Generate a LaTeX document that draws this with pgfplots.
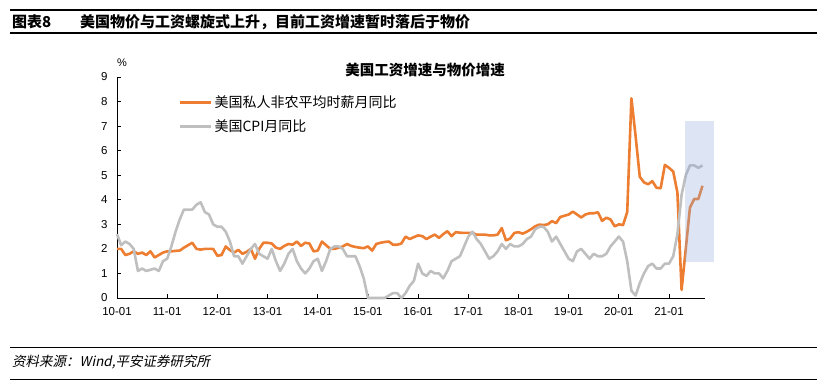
\documentclass[border=0pt]{standalone}
\usepackage{fontspec}
\setmainfont{Liberation Sans}
\newfontfamily\cjk{Noto Sans CJK SC}
\newfontfamily\cjkit[FakeSlant=0.2]{Noto Sans CJK SC}
\usepackage{pgfplots}
\pgfplotsset{compat=1.18}
\usepackage{pgfplotstable}
\definecolor{wage}{RGB}{237,125,49}
\definecolor{cpi}{RGB}{191,191,191}
\definecolor{shadeblue}{RGB}{143,170,220}

% month index = row number, 2010-01 = 0 ... 2021-09 = 140
\pgfplotstableread{
w c
2.0 2.6
2.0 2.15
1.75 2.3
1.8 2.2
1.9 2.0
1.8 1.1
1.85 1.2
1.75 1.1
1.9 1.15
1.65 1.2
1.75 1.1
1.85 1.5
1.9 1.6
1.9 2.1
1.92 2.7
1.93 3.2
2.05 3.6
2.15 3.6
2.25 3.6
2.0 3.8
1.97 3.9
2.0 3.5
2.0 3.4
2.0 3.0
1.72 2.9
1.75 2.9
2.1 2.7
1.95 2.3
1.85 1.7
1.96 1.7
1.8 1.4
1.88 1.7
2.0 2.0
1.6 2.2
2.0 1.8
2.25 1.7
2.25 1.6
2.22 2.0
2.05 1.5
2.0 1.1
2.12 1.4
2.2 1.8
2.17 2.0
2.3 1.5
2.12 1.2
2.25 1.0
2.22 1.2
1.9 1.5
1.93 1.6
2.3 1.1
2.15 1.5
2.0 2.0
2.0 2.1
2.05 2.1
2.1 2.0
2.2 1.7
2.12 1.7
2.08 1.7
2.05 1.3
2.03 0.8
2.1 0.0
1.93 0.0
2.2 0.0
2.25 0.0
2.28 0.0
2.3 0.1
2.17 0.2
2.17 0.2
2.22 0.0
2.5 0.2
2.4 0.5
2.48 0.7
2.55 1.4
2.52 1.0
2.4 0.9
2.5 1.1
2.58 1.0
2.45 1.0
2.6 0.8
2.72 1.1
2.52 1.5
2.68 1.6
2.66 1.7
2.65 2.1
2.65 2.5
2.65 2.7
2.58 2.4
2.58 2.2
2.58 1.9
2.55 1.6
2.55 1.7
2.58 1.9
2.85 2.2
2.35 2.0
2.42 2.2
2.65 2.1
2.68 2.1
2.62 2.2
2.7 2.4
2.8 2.5
2.92 2.8
2.99 2.9
2.97 2.9
3.0 2.7
3.13 2.3
3.05 2.5
3.3 2.2
3.35 1.9
3.4 1.6
3.52 1.5
3.4 1.9
3.28 2.0
3.4 1.8
3.45 1.6
3.45 1.8
3.49 1.7
3.14 1.7
3.27 1.8
3.2 2.1
2.92 2.3
3.0 2.5
2.97 2.3
3.5 1.5
8.13 0.3
6.6 0.1
4.94 0.6
4.71 1.0
4.63 1.3
4.76 1.4
4.49 1.2
4.47 1.2
5.42 1.4
5.3 1.4
5.15 1.7
4.3 2.6
0.33 4.2
2.0 5.0
3.68 5.4
4.03 5.4
4.03 5.3
4.57 5.4
}\data

\begin{document}
\begin{tikzpicture}
\useasboundingbox (0,0) rectangle (817bp,-385bp);
% header
\draw[line width=1.4bp] (10bp,-10bp) -- (817bp,-10bp);
\draw[line width=1.4bp] (10bp,-33bp) -- (817bp,-33bp);
\node[anchor=west, inner sep=0pt] at (12bp,-22bp) {\cjk\bfseries\fontsize{15bp}{17bp}\selectfont 图表8};
\node[anchor=west, inner sep=0pt] at (80bp,-22bp) {\cjk\bfseries\fontsize{15bp}{17bp}\selectfont 美国物价与工资螺旋式上升，目前工资增速暂时落后于物价};
% footer
\draw[line width=0.9bp] (10bp,-347bp) -- (817bp,-347bp);
\draw[line width=0.9bp] (10bp,-379bp) -- (817bp,-379bp);
\node[anchor=west, inner sep=0pt] at (12bp,-362bp) {\cjkit\fontsize{13.5bp}{15bp}\selectfont 资料来源：Wind,平安证券研究所};
% chart title and unit
\node[inner sep=0pt] at (425bp,-70bp) {\cjk\bfseries\fontsize{14.5bp}{16bp}\selectfont 美国工资增速与物价增速};
\node[inner sep=0pt] at (122bp,-63bp) {\fontsize{11bp}{13bp}\selectfont \%};

\begin{axis}[
  at={(117bp,-298bp)}, anchor=south west,
  scale only axis, width=588bp, height=221bp,
  xmin=0, xmax=140.6, ymin=0, ymax=9,
  axis x line*=bottom, axis y line*=left,
  axis line style={line width=0.8bp, black},
  tick align=inside, major tick length=4bp,
  tick style={black, line width=0.8bp},
  xtick={0,12,...,132},
  xticklabels={10-01,11-01,12-01,13-01,14-01,15-01,16-01,17-01,18-01,19-01,20-01,21-01},
  ytick={0,1,...,9},
  /pgf/number format/assume math mode=true,
  tick label style={font=\fontsize{11.5bp}{13bp}\selectfont},
  yticklabel style={xshift=-6bp},
  xticklabel style={yshift=-6bp},
  clip=false,
  legend style={at={(0.105,0.925)}, anchor=north west, draw=none, fill=none,
    inner sep=0pt, row sep=7bp,
    font=\cjk\fontsize{14bp}{16bp}\selectfont},
  legend cell align=left,
  legend image code/.code={\draw[#1, line width=2.6bp] (0bp,0bp) -- (31bp,0bp);},
]
\addplot[wage, line width=2.6bp, line join=round] table[x expr=\coordindex, y=w] {\data};
\addlegendentry{美国私人非农平均时薪月同比}
\addplot[cpi, line width=2.6bp, line join=round] table[x expr=\coordindex, y=c] {\data};
\addlegendentry{美国CPI月同比}
\fill[shadeblue, fill opacity=0.3] (axis cs:135.8,1.48) rectangle (axis cs:142.7,7.22);
\end{axis}
\end{tikzpicture}
\end{document}
